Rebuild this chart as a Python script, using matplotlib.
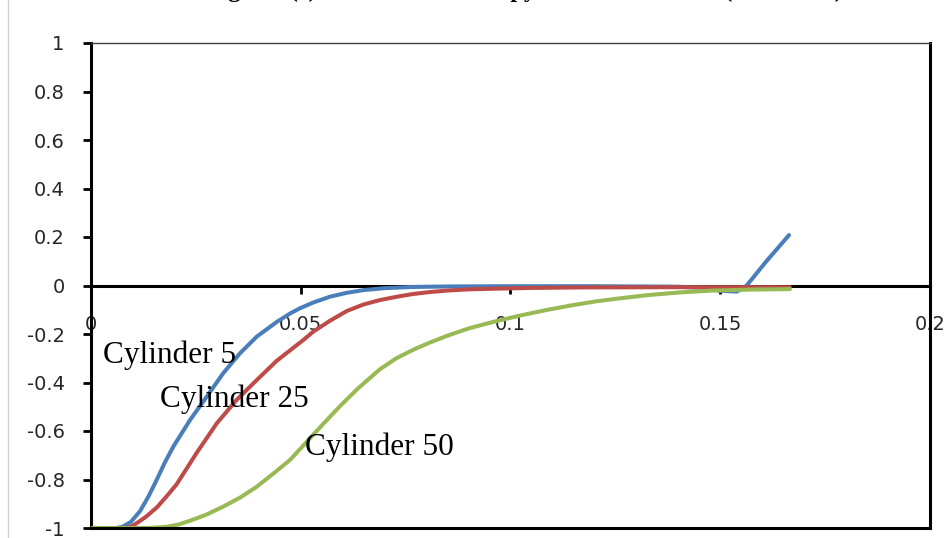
import numpy as np
import matplotlib
matplotlib.use('Agg')
import matplotlib.pyplot as plt
from matplotlib.lines import Line2D

# Series
x_cyl5 = [0, 0.006, 0.0075, 0.0095, 0.0117, 0.0137, 0.0157, 0.0176, 0.0196, 0.0236,
          0.0276, 0.0315, 0.0355, 0.0395, 0.0443, 0.0475, 0.0498, 0.053, 0.057, 0.061,
          0.065, 0.070, 0.0768, 0.085, 0.10, 0.12, 0.14, 0.146, 0.150, 0.154,
          0.1563, 0.161, 0.1664]
y_cyl5 = [-1, -1, -0.995, -0.975, -0.93, -0.87, -0.80, -0.73, -0.665, -0.555,
          -0.458, -0.362, -0.28, -0.211, -0.15, -0.115, -0.094, -0.07, -0.046, -0.03,
          -0.019, -0.011, -0.006, -0.004, -0.003, -0.003, -0.005, -0.01, -0.022, -0.025,
          0.0, 0.10, 0.208]

x_cyl25 = [0, 0.008, 0.0095, 0.0109, 0.013, 0.0157, 0.018, 0.0204, 0.0228, 0.0252,
           0.030, 0.0347, 0.0395, 0.0443, 0.0506, 0.053, 0.057, 0.061, 0.065, 0.0689,
           0.073, 0.0768, 0.0808, 0.0848, 0.090, 0.0967, 0.105, 0.1166, 0.14, 0.1666]
y_cyl25 = [-1, -1, -0.995, -0.98, -0.955, -0.915, -0.87, -0.82, -0.755, -0.69,
           -0.568, -0.472, -0.39, -0.31, -0.225, -0.19, -0.145, -0.105, -0.078, -0.06,
           -0.046, -0.035, -0.027, -0.021, -0.016, -0.013, -0.01, -0.008, -0.007, -0.007]

x_cyl50 = [0, 0.014, 0.018, 0.021, 0.0236, 0.0275, 0.0315, 0.0355, 0.0395, 0.0435,
           0.0474, 0.0514, 0.0554, 0.0595, 0.0636, 0.0689, 0.0728, 0.0768, 0.0808, 0.0848,
           0.090, 0.0959, 0.102, 0.1086, 0.1145, 0.1205, 0.1265, 0.1325, 0.140, 0.148,
           0.157, 0.1666]
y_cyl50 = [-1, -1, -0.995, -0.985, -0.97, -0.945, -0.912, -0.875, -0.83, -0.775,
           -0.72, -0.645, -0.57, -0.495, -0.425, -0.345, -0.3, -0.265, -0.235, -0.208,
           -0.177, -0.15, -0.125, -0.101, -0.082, -0.065, -0.052, -0.04, -0.029, -0.021,
           -0.017, -0.015]

x_ticks = [0, 0.05, 0.1, 0.15, 0.2]
x_ticklabels = ['0', '0.05', '0.1', '0.15', '0.2']
y_ticks = [1, 0.8, 0.6, 0.4, 0.2, 0, -0.2, -0.4, -0.6, -0.8, -1]
y_ticklabels = ['1', '0.8', '0.6', '0.4', '0.2', '0', '-0.2', '-0.4', '-0.6', '-0.8', '-1']

labels = ['Cylinder 5', 'Cylinder 25', 'Cylinder 50']
label_pos = [(0.0029, -0.32), (0.0165, -0.50), (0.051, -0.70)]
colors = ['#4a7ebb', '#be4b48', '#98b954']

fig = plt.figure(figsize=(9.51, 5.38), dpi=100)
ax = fig.add_axes([91 / 951, 1 - 528 / 538, (930 - 91) / 951, (528 - 43) / 538])

for xs, ys, c in zip([x_cyl5, x_cyl25, x_cyl50], [y_cyl5, y_cyl25, y_cyl50], colors):
    ax.plot(xs, ys, color=c, lw=2.9, solid_capstyle='round', solid_joinstyle='round', zorder=3)

ax.set_xlim(0, 0.2)
ax.set_ylim(-1, 1)

# axis frame: x axis crosses at zero, plot area closed by black borders
ax.spines['bottom'].set_position(('data', 0))
for s in ['left', 'right', 'bottom']:
    ax.spines[s].set_linewidth(2.2)
    ax.spines[s].set_color('black')
ax.spines['top'].set_linewidth(1.0)
ax.spines['top'].set_color('#404040')
ax.axhline(-1, color='black', lw=2.2, clip_on=False, zorder=4)

ax.set_xticks(x_ticks)
ax.set_xticklabels(x_ticklabels)
ax.set_yticks(y_ticks)
ax.set_yticklabels(y_ticklabels)
ax.tick_params(axis='x', direction='out', length=6, width=2, pad=15, labelsize=14)
ax.tick_params(axis='y', direction='out', length=6, width=2, pad=13, labelsize=14)
for t in ax.get_xticklabels() + ax.get_yticklabels():
    t.set_color('#262626')

for (tx, ty), lab in zip(label_pos, labels):
    ax.text(tx, ty, lab, fontsize=22.5, family='Liberation Serif', color='black',
            va='baseline', ha='left', zorder=5)

# title sits above the visible area, only its descenders show
fig.text(192 / 951, 1 + 3.5 / 538, 'Diagram (c) Normalized Entropy Destruction Rate (Re = 1000)',
         fontsize=17.5, family='Liberation Serif', fontweight='bold', va='baseline', ha='left')

# chart area border on the left
fig.add_artist(Line2D([8 / 951, 8 / 951], [0, 1], transform=fig.transFigure,
                      color='#d0d0d0', lw=1))

fig.savefig('out.png', dpi=100)
